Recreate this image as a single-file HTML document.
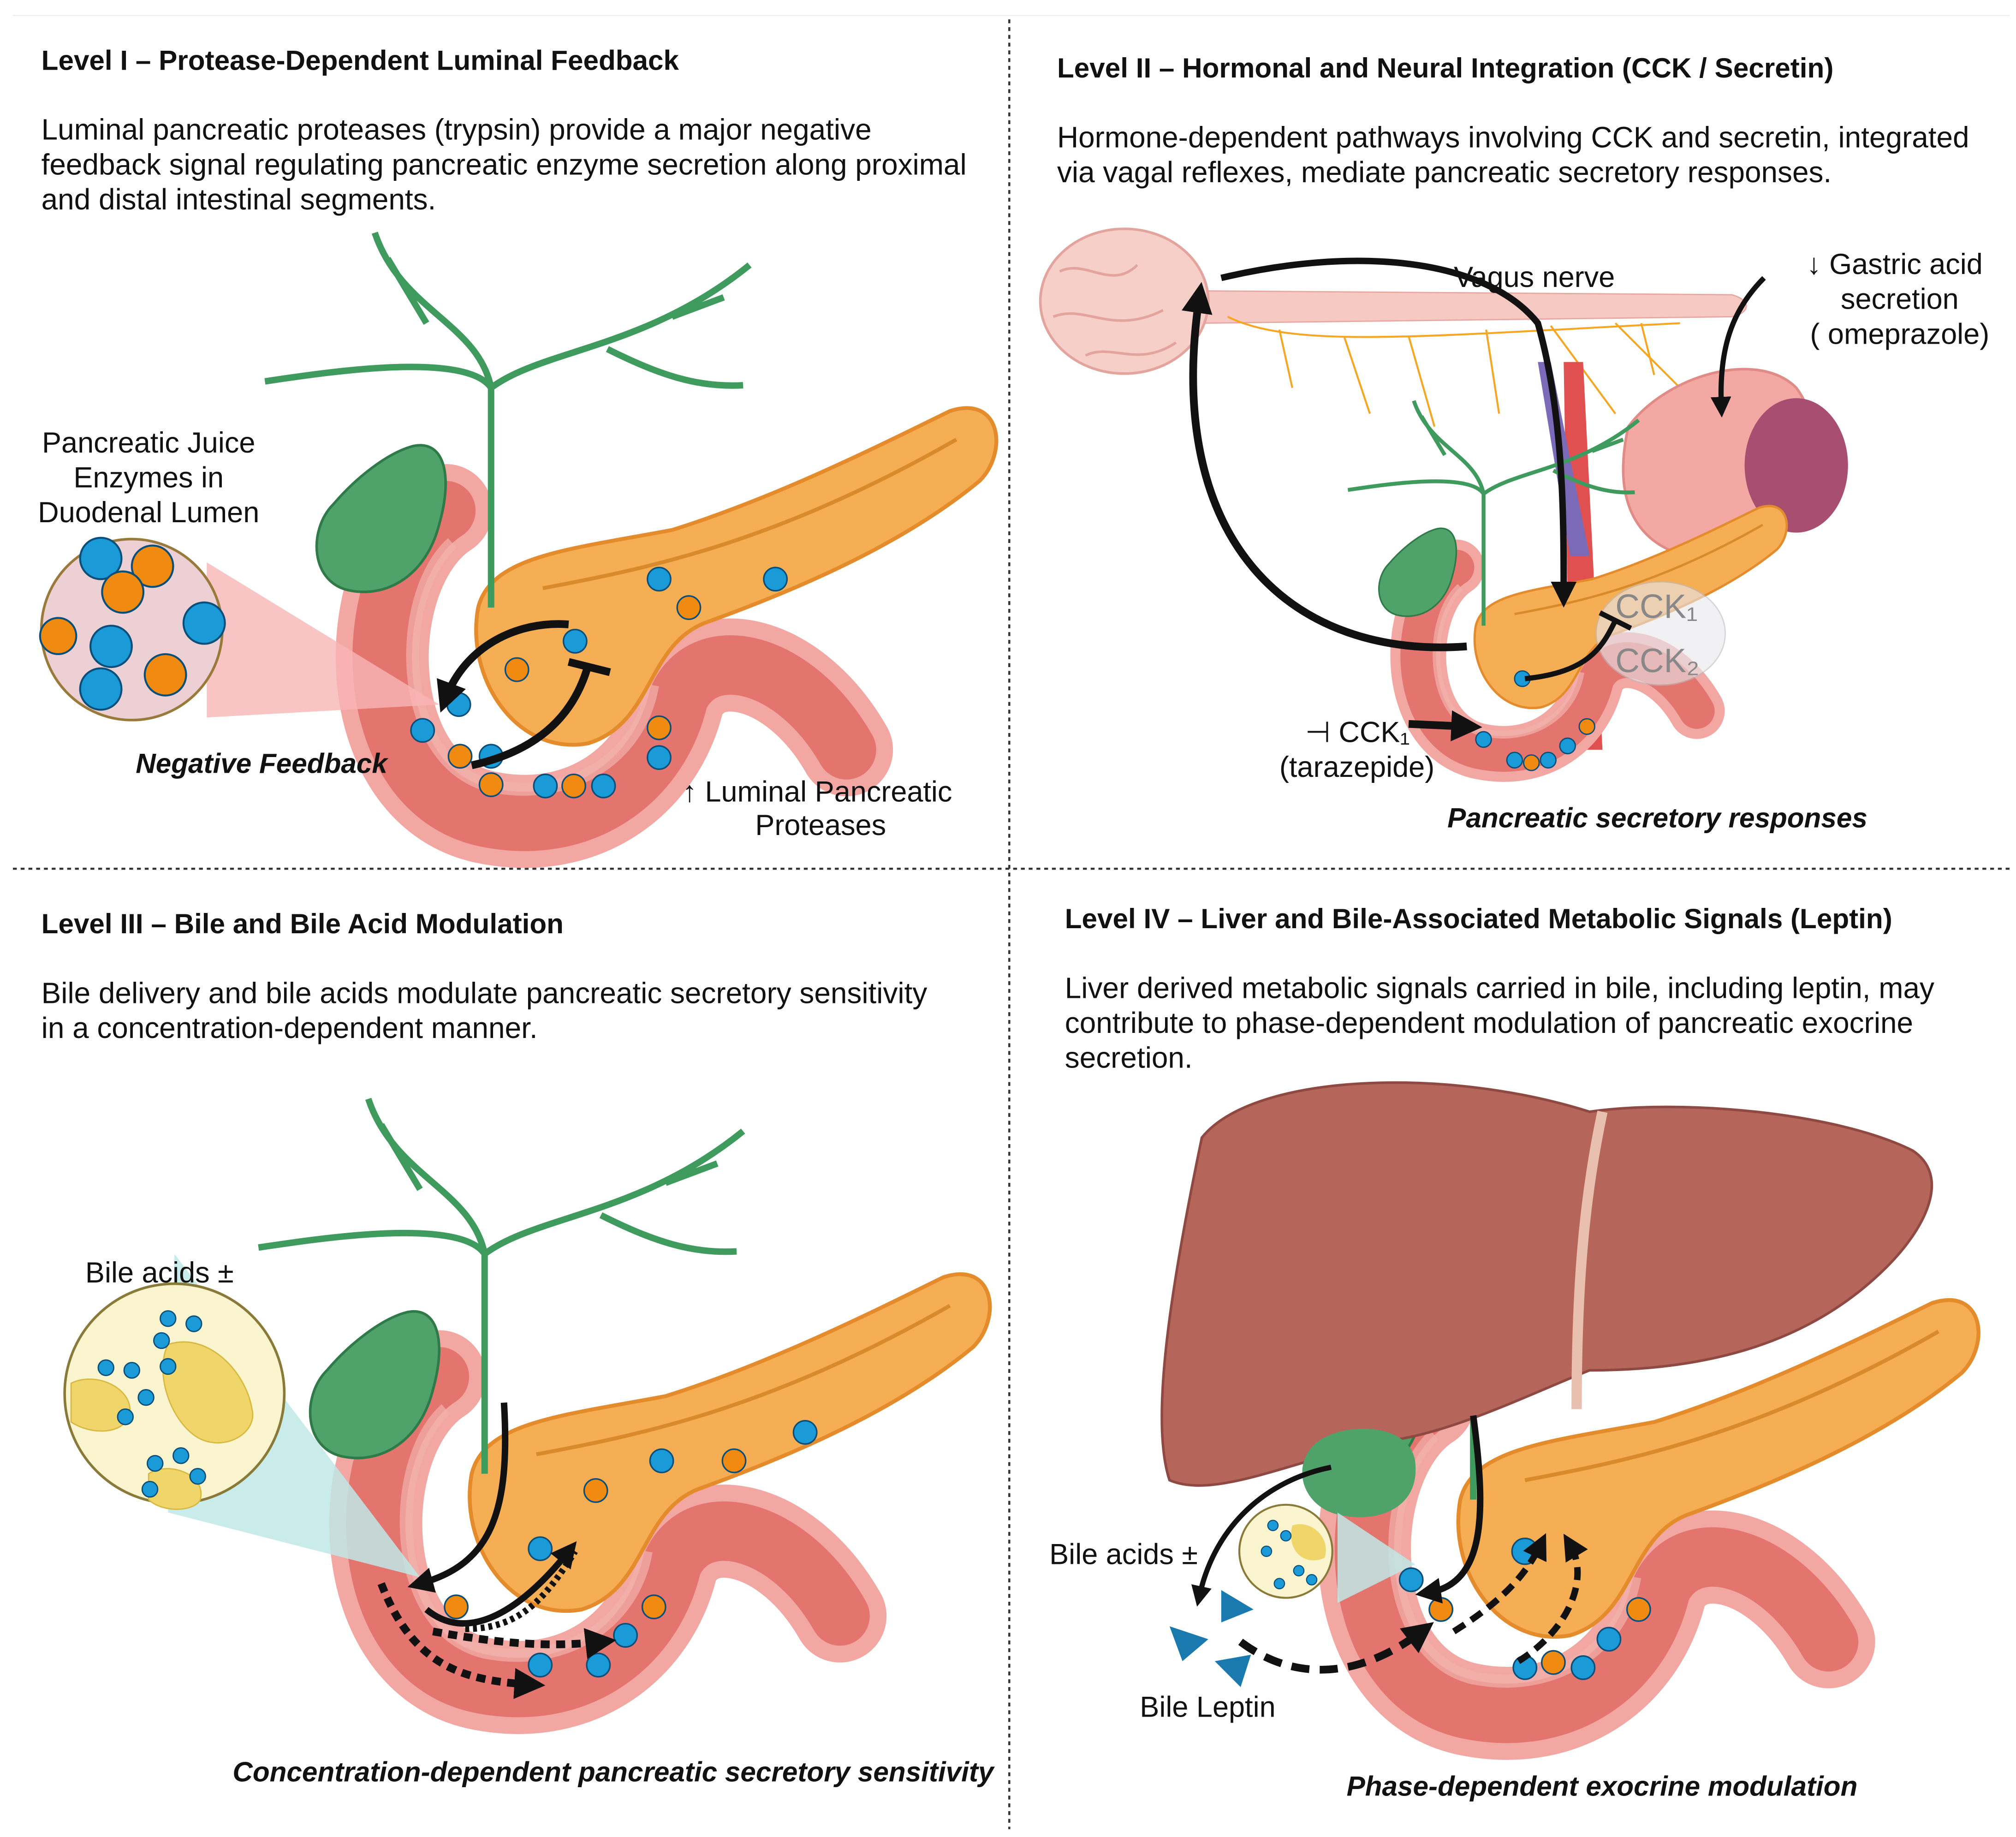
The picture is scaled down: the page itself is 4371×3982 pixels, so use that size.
<!DOCTYPE html>
<html><head><meta charset="utf-8"><style>
html,body{margin:0;padding:0;background:#fff}
svg{display:block}
text{font-family:"Liberation Sans",sans-serif;fill:#111}
.t{font-weight:bold;font-size:21.5px}
.b{font-size:22.8px}
.l{font-size:22.5px}
.i{font-weight:bold;font-style:italic;font-size:21.5px}
</style></head><body>
<svg width="4371" height="3982" viewBox="0 0 1560 1421" preserveAspectRatio="none" xmlns="http://www.w3.org/2000/svg">
<defs>
<marker id="ah" markerWidth="4" markerHeight="4" refX="2" refY="2" orient="auto" markerUnits="strokeWidth"><path d="M0,0 L4,2 L0,4 Z" fill="#111"/></marker>
<g id="scene">
  <path d="M345,395 C275,440 275,610 375,632 C450,648 510,605 525,540 C545,495 615,510 655,580" fill="none" stroke="#f2a7a2" stroke-width="72" stroke-linecap="round"/>
  <path d="M345,395 C275,440 275,610 375,632 C450,648 510,605 525,540 C545,495 615,510 655,580" fill="none" stroke="#e3746e" stroke-width="46" stroke-linecap="round"/>
  <path d="M350,420 C305,460 305,590 380,608 C440,620 495,588 505,530" fill="none" stroke="#f2b2ad" stroke-width="10" opacity=".7"/>
  <path d="M370,470 C380,430 440,425 520,410 C600,385 680,345 735,318 C775,305 780,350 758,372 C700,420 620,455 545,482 C500,500 505,560 455,575 C400,585 360,525 370,470Z" fill="#f6ae55" stroke="#e48b2c" stroke-width="3"/>
  <path d="M420,455 C500,440 600,420 740,340" fill="none" stroke="#d98a2a" stroke-width="3"/>
  <path d="M380,470 L380,300 M380,300 C370,250 310,240 290,180 M380,300 C360,270 240,290 205,295 M380,300 C420,270 500,270 580,205 M470,270 C510,290 540,300 575,298 M330,250 L300,200 M520,245 L560,230" fill="none" stroke="#3f9a5e" stroke-width="5"/>
  <path d="M320,345 C345,340 350,370 340,405 C330,445 300,462 272,457 C240,452 238,410 258,390 C275,370 300,350 320,345Z" fill="#4fa36a" stroke="#2f7a48" stroke-width="2"/>
</g>
</defs>
<line x1="10" y1="12" x2="1555" y2="12" stroke="#eee" stroke-width="1"/>
<line x1="781" y1="15" x2="781" y2="1415" stroke="#333" stroke-width="1.6" stroke-dasharray="3,3"/>
<line x1="10" y1="672" x2="1557" y2="672" stroke="#333" stroke-width="1.6" stroke-dasharray="3,3"/>

<!-- Panel I -->
<text class="t" x="32" y="54">Level I – Protease-Dependent Luminal Feedback</text>
<text class="b" x="32" y="108">Luminal pancreatic proteases (trypsin) provide a major negative</text>
<text class="b" x="32" y="135">feedback signal regulating pancreatic enzyme secretion along proximal</text>
<text class="b" x="32" y="162">and distal intestinal segments.</text>
<use href="#scene"/>
<path d="M160,435 L340,545 L160,555 Z" fill="#f7b5b5" opacity=".8"/>
<circle cx="102" cy="487" r="70" fill="#ecd0d4" stroke="#9a7a3a" stroke-width="2"/>
<g stroke="#0a4f7a" stroke-width="1.5">
<circle cx="78" cy="432" r="16" fill="#1a9ad6"/><circle cx="118" cy="438" r="16" fill="#f08a10"/><circle cx="95" cy="458" r="16" fill="#f08a10"/>
<circle cx="45" cy="492" r="14" fill="#f08a10"/><circle cx="86" cy="500" r="16" fill="#1a9ad6"/><circle cx="158" cy="482" r="16" fill="#1a9ad6"/>
<circle cx="78" cy="533" r="16" fill="#1a9ad6"/><circle cx="128" cy="522" r="16" fill="#f08a10"/>
</g>
<g stroke="#0a4f7a" stroke-width="1.2">
<circle cx="510" cy="448" r="9" fill="#1a9ad6"/><circle cx="600" cy="448" r="9" fill="#1a9ad6"/><circle cx="445" cy="496" r="9" fill="#1a9ad6"/>
<circle cx="355" cy="545" r="9" fill="#1a9ad6"/><circle cx="327" cy="565" r="9" fill="#1a9ad6"/><circle cx="380" cy="585" r="9" fill="#1a9ad6"/>
<circle cx="422" cy="608" r="9" fill="#1a9ad6"/><circle cx="467" cy="608" r="9" fill="#1a9ad6"/><circle cx="510" cy="586" r="9" fill="#1a9ad6"/>
<circle cx="533" cy="470" r="9" fill="#f08a10"/><circle cx="400" cy="518" r="9" fill="#f08a10"/><circle cx="356" cy="585" r="9" fill="#f08a10"/>
<circle cx="380" cy="607" r="9" fill="#f08a10"/><circle cx="444" cy="608" r="9" fill="#f08a10"/><circle cx="510" cy="563" r="9" fill="#f08a10"/>
</g>
<path d="M440,483 C400,480 360,500 345,540" fill="none" stroke="#111" stroke-width="6" marker-end="url(#ah)"/>
<path d="M365,592 C420,580 445,550 455,515 M440,512 L472,520" fill="none" stroke="#111" stroke-width="6"/>
<text class="l" x="115" y="350" text-anchor="middle">Pancreatic Juice</text>
<text class="l" x="115" y="377" text-anchor="middle">Enzymes in</text>
<text class="l" x="115" y="404" text-anchor="middle">Duodenal Lumen</text>
<text class="i" x="105" y="598">Negative Feedback</text>
<text class="l" x="528" y="620">↑ Luminal Pancreatic</text>
<text class="l" x="635" y="646" text-anchor="middle">Proteases</text>

<!-- Panel II -->
<text class="t" x="818" y="60">Level II – Hormonal and Neural Integration (CCK / Secretin)</text>
<text class="b" x="818" y="114">Hormone-dependent pathways involving CCK and secretin, integrated</text>
<text class="b" x="818" y="141">via vagal reflexes, mediate pancreatic secretory responses.</text>
<path d="M930,225 L1340,228 C1355,232 1355,242 1340,245 L930,250 Z" fill="#f6c9c3" stroke="#e8a7a0"/>
<path d="M950,245 C1000,270 1100,260 1300,250 M990,255 L1000,300 M1040,260 L1060,320 M1090,260 L1110,330 M1150,255 L1160,320 M1200,252 L1250,320 M1250,250 L1300,300 M1270,250 L1280,290" fill="none" stroke="#f5a623" stroke-width="1.5"/>
<ellipse cx="870" cy="233" rx="65" ry="56" fill="#f7cfc9" stroke="#e2a49c" stroke-width="2"/>
<path d="M820,210 C840,200 860,225 880,205 M815,245 C840,235 860,260 900,240 M840,275 C860,265 880,285 910,265" fill="none" stroke="#e2a49c" stroke-width="2"/>
<path d="M1210,280 L1225,280 L1240,580 L1215,580 Z" fill="#e05050"/>
<path d="M1190,280 L1200,280 L1230,430 L1215,430 Z" fill="#7a6ab8"/>
<path d="M1260,330 C1290,290 1360,270 1390,300 C1420,340 1400,420 1350,430 C1300,440 1240,420 1260,330Z" fill="#f4a8a4" stroke="#e08b85" stroke-width="2"/>
<ellipse cx="1390" cy="360" rx="40" ry="52" fill="#a84e70"/>
<g transform="translate(920,202) scale(0.6)"><use href="#scene"/></g>
<g stroke="#0a4f7a" stroke-width="1"><circle cx="1178" cy="525" r="6" fill="#1a9ad6"/><circle cx="1148" cy="572" r="6" fill="#1a9ad6"/><circle cx="1172" cy="588" r="6" fill="#1a9ad6"/><circle cx="1198" cy="588" r="6" fill="#1a9ad6"/><circle cx="1213" cy="577" r="6" fill="#1a9ad6"/><circle cx="1185" cy="590" r="6" fill="#f08a10"/><circle cx="1228" cy="562" r="6" fill="#f08a10"/></g>
<ellipse cx="1285" cy="490" rx="50" ry="40" fill="#e8e8ee" opacity=".6" stroke="#bbb"/>
<text x="1250" y="478" style="font-size:26px;fill:#888">CCK₁</text>
<text x="1250" y="520" style="font-size:26px;fill:#888">CCK₂</text>
<path d="M945,215 C1050,190 1150,200 1190,250 C1210,320 1210,400 1210,460" fill="none" stroke="#111" stroke-width="5" marker-end="url(#ah)"/>
<path d="M1135,500 C1000,510 900,420 928,230" fill="none" stroke="#111" stroke-width="6" marker-end="url(#ah)"/>
<path d="M1180,525 C1230,520 1240,500 1250,480 M1238,474 L1262,486" fill="none" stroke="#111" stroke-width="4"/>
<path d="M1090,560 L1135,562" stroke="#111" stroke-width="6" marker-end="url(#ah)"/>
<path d="M1365,215 C1340,240 1330,270 1332,315" fill="none" stroke="#111" stroke-width="4" marker-end="url(#ah)"/>
<text class="l" x="1125" y="222">Vagus nerve</text>
<text class="l" x="1398" y="212">↓ Gastric acid</text>
<text class="l" x="1470" y="239" text-anchor="middle">secretion</text>
<text class="l" x="1470" y="266" text-anchor="middle">( omeprazole)</text>
<text class="l" x="1010" y="574">⊣ CCK₁</text>
<text class="l" x="990" y="601">(tarazepide)</text>
<text class="i" x="1120" y="640">Pancreatic secretory responses</text>

<!-- Panel III -->
<text class="t" x="32" y="722">Level III – Bile and Bile Acid Modulation</text>
<text class="b" x="32" y="776">Bile delivery and bile acids modulate pancreatic secretory sensitivity</text>
<text class="b" x="32" y="803">in a concentration-dependent manner.</text>
<g transform="translate(-5,670)"><use href="#scene"/></g>
<path d="M135,970 L325,1220 L130,1170 Z" fill="#bfe8e6" opacity=".85"/>
<circle cx="135" cy="1078" r="85" fill="#fbf5cf" stroke="#8a7a3a" stroke-width="2"/>
<path d="M130,1040 C160,1030 190,1060 195,1090 C200,1110 170,1125 150,1110 C130,1095 120,1060 130,1040Z M55,1070 C75,1060 105,1075 100,1095 C95,1110 70,1110 55,1100Z M115,1140 C130,1130 160,1140 155,1160 C150,1170 125,1170 115,1160Z" fill="#f0d66a" stroke="#d8b840"/>
<g fill="#1a9ad6" stroke="#0a4f7a" stroke-width="1">
<circle cx="130" cy="1020" r="6"/><circle cx="150" cy="1024" r="6"/><circle cx="125" cy="1037" r="6"/><circle cx="130" cy="1057" r="6"/>
<circle cx="82" cy="1058" r="6"/><circle cx="102" cy="1060" r="6"/><circle cx="113" cy="1081" r="6"/><circle cx="97" cy="1096" r="6"/>
<circle cx="120" cy="1132" r="6"/><circle cx="140" cy="1126" r="6"/><circle cx="153" cy="1142" r="6"/><circle cx="116" cy="1152" r="6"/>
</g>
<g stroke="#0a4f7a" stroke-width="1.2">
<circle cx="512" cy="1130" r="9" fill="#1a9ad6"/><circle cx="623" cy="1108" r="9" fill="#1a9ad6"/><circle cx="418" cy="1198" r="9" fill="#1a9ad6"/>
<circle cx="484" cy="1265" r="9" fill="#1a9ad6"/><circle cx="463" cy="1288" r="9" fill="#1a9ad6"/><circle cx="418" cy="1288" r="9" fill="#1a9ad6"/>
<circle cx="568" cy="1130" r="9" fill="#f08a10"/><circle cx="461" cy="1153" r="9" fill="#f08a10"/><circle cx="353" cy="1243" r="9" fill="#f08a10"/><circle cx="506" cy="1243" r="9" fill="#f08a10"/>
</g>
<path d="M390,1085 C395,1170 380,1210 325,1225" fill="none" stroke="#111" stroke-width="5" marker-end="url(#ah)"/>
<path d="M330,1245 C360,1270 400,1250 440,1200" fill="none" stroke="#111" stroke-width="5" marker-end="url(#ah)"/>
<path d="M360,1260 C400,1260 420,1240 445,1200" fill="none" stroke="#111" stroke-width="5" stroke-dasharray="3,3"/>
<path d="M295,1225 C320,1290 360,1300 410,1303" fill="none" stroke="#111" stroke-width="6" stroke-dasharray="7,5" marker-end="url(#ah)"/>
<path d="M335,1262 C380,1270 420,1275 465,1270" fill="none" stroke="#111" stroke-width="6" stroke-dasharray="7,5" marker-end="url(#ah)"/>
<text class="l" x="66" y="992">Bile acids ±</text>
<text class="i" x="180" y="1378">Concentration-dependent pancreatic secretory sensitivity</text>

<!-- Panel IV -->
<text class="t" x="824" y="718">Level IV – Liver and Bile-Associated Metabolic Signals (Leptin)</text>
<text class="b" x="824" y="772">Liver derived metabolic signals carried in bile, including leptin, may</text>
<text class="b" x="824" y="799">contribute to phase-dependent modulation of pancreatic exocrine</text>
<text class="b" x="824" y="826">secretion.</text>
<g transform="translate(760,690)"><use href="#scene"/></g>
<path d="M930,880 C970,830 1120,825 1230,860 C1300,850 1420,860 1480,890 C1510,910 1490,950 1460,980 C1400,1040 1320,1060 1230,1060 C1180,1080 1120,1110 1070,1115 C1000,1130 940,1160 905,1145 C890,1100 905,1000 930,880Z" fill="#b5655a" stroke="#8e4a42" stroke-width="2"/>
<path d="M1240,860 C1225,930 1220,1000 1220,1090" fill="none" stroke="#e9c0b0" stroke-width="8"/>
<path d="M1020,1115 C1040,1100 1090,1100 1095,1130 C1100,1170 1060,1180 1030,1170 C1005,1160 1000,1130 1020,1115Z" fill="#4fa36a"/>
<path d="M1035,1170 L1095,1210 L1035,1240 Z" fill="#bfe8e6" opacity=".85"/>
<circle cx="995" cy="1200" r="36" fill="#fbf5cf" stroke="#8a7a3a" stroke-width="1.5"/>
<path d="M1000,1180 C1015,1175 1030,1190 1025,1205 C1010,1212 995,1200 1000,1180Z" fill="#f0d66a"/>
<g fill="#1a9ad6" stroke="#0a4f7a" stroke-width=".8"><circle cx="985" cy="1180" r="4"/><circle cx="995" cy="1188" r="4"/><circle cx="980" cy="1200" r="4"/><circle cx="1005" cy="1215" r="4"/><circle cx="1015" cy="1222" r="4"/><circle cx="990" cy="1225" r="4"/></g>
<g stroke="#0a4f7a" stroke-width="1.2">
<circle cx="1180" cy="1200" r="10" fill="#1a9ad6"/><circle cx="1092" cy="1222" r="9" fill="#1a9ad6"/><circle cx="1245" cy="1268" r="9" fill="#1a9ad6"/>
<circle cx="1180" cy="1290" r="9" fill="#1a9ad6"/><circle cx="1225" cy="1290" r="9" fill="#1a9ad6"/><circle cx="1115" cy="1245" r="9" fill="#f08a10"/><circle cx="1268" cy="1245" r="9" fill="#f08a10"/><circle cx="1202" cy="1286" r="9" fill="#f08a10"/>
</g>
<path d="M1140,1095 C1150,1170 1150,1225 1105,1232" fill="none" stroke="#111" stroke-width="5" marker-end="url(#ah)"/>
<path d="M1030,1135 C980,1145 940,1180 928,1235" fill="none" stroke="#111" stroke-width="4" marker-end="url(#ah)"/>
<path d="M960,1270 C1000,1300 1050,1300 1100,1262" fill="none" stroke="#111" stroke-width="6" stroke-dasharray="14,8" marker-end="url(#ah)"/>
<path d="M1125,1262 C1160,1240 1180,1220 1192,1195" fill="none" stroke="#111" stroke-width="5" stroke-dasharray="10,6" marker-end="url(#ah)"/>
<path d="M1175,1285 C1215,1260 1230,1220 1215,1195" fill="none" stroke="#111" stroke-width="5" stroke-dasharray="10,6" marker-end="url(#ah)"/>
<path d="M905,1258 L935,1268 L915,1285Z M945,1230 L970,1245 L945,1255Z M940,1285 L968,1280 L960,1305Z" fill="#1a7ab0"/>
<text class="l" x="812" y="1210">Bile acids ±</text>
<text class="l" x="882" y="1328">Bile Leptin</text>
<text class="i" x="1042" y="1389">Phase-dependent exocrine modulation</text>
</svg>
</body></html>
